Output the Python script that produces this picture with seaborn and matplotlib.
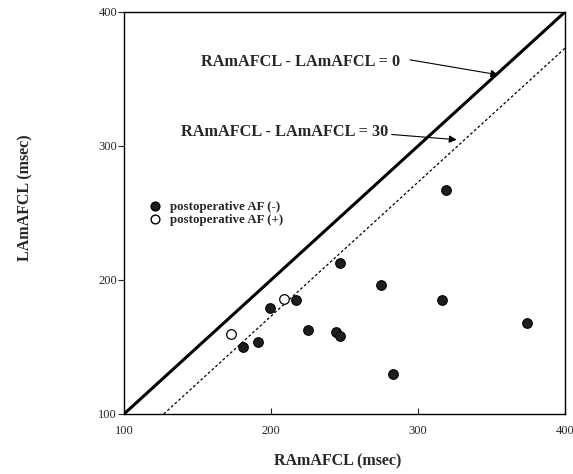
import matplotlib
matplotlib.use("Agg")
import matplotlib.pyplot as plt
import seaborn as sns
import pandas as pd
from matplotlib.ticker import MultipleLocator, AutoMinorLocator
from matplotlib.lines import Line2D

# ---- data ----
neg_x = [319, 247, 275, 316, 374, 225, 244, 247, 283, 217, 199, 191, 181]
neg_y = [267, 213, 196, 185, 168, 163, 161, 158, 130, 185, 179, 154, 150]
pos_x = [173, 209]
pos_y = [160, 186]
group_labels = ["postoperative AF (-)", "postoperative AF (+)"]
line_x = [100, 400]
diff_drawn = 27  # offset of the dashed reference line as drawn

df = pd.DataFrame({
    "RAmAFCL": neg_x + pos_x,
    "LAmAFCL": neg_y + pos_y,
    "group": [group_labels[0]] * len(neg_x) + [group_labels[1]] * len(pos_x),
})

sns.set_style("white")
plt.rcParams["font.family"] = ["Liberation Serif", "DejaVu Serif"]

fig = plt.figure(figsize=(5.73, 4.74), dpi=100)
ax = fig.add_axes([124 / 573, 1 - 414 / 474, 441 / 573, 402 / 474])

# reference lines
sns.lineplot(x=line_x, y=line_x, ax=ax, color="black", lw=2.2)
dash_x = [100 + diff_drawn, 400]
sns.lineplot(x=dash_x, y=[v - diff_drawn for v in dash_x], ax=ax, color="black",
             lw=0.9, linestyle=(0, (2.2, 1.8)))

sns.scatterplot(data=df[df.group == group_labels[0]], x="RAmAFCL", y="LAmAFCL",
                ax=ax, color="#1e1e1e", edgecolor="black", s=48, linewidth=0.8,
                legend=False, zorder=3)
sns.scatterplot(data=df[df.group == group_labels[1]], x="RAmAFCL", y="LAmAFCL",
                ax=ax, color="white", edgecolor="black", s=48, linewidth=0.9,
                legend=False, zorder=3)

ax.set_xlim(100, 400)
ax.set_ylim(100, 400)
ax.xaxis.set_major_locator(MultipleLocator(100))
ax.yaxis.set_major_locator(MultipleLocator(100))
ax.xaxis.set_minor_locator(AutoMinorLocator(6))
ax.yaxis.set_minor_locator(AutoMinorLocator(6))
ax.tick_params(axis="x", which="major", direction="in", length=4, width=0.8,
               labelsize=9, pad=8)
ax.tick_params(axis="x", which="minor", direction="in", length=2.5, width=0.8)
ax.tick_params(axis="y", which="major", direction="out", length=4, width=0.8,
               labelsize=9, pad=1)
ax.tick_params(axis="y", which="minor", direction="out", length=2, width=0.8)
ax.tick_params(left=True, bottom=True)
for sp in ax.spines.values():
    sp.set_visible(True)
    sp.set_color("black")
    sp.set_linewidth(1.0)

ax.set_xlabel("RAmAFCL (msec)", fontsize=11.5, fontweight="bold", va="center")
ax.set_ylabel("LAmAFCL (msec)", fontsize=11.5, fontweight="bold", va="center")
ax.xaxis.set_label_coords(0.485, -0.119)
ax.yaxis.set_label_coords(-0.224, 0.537)

# annotations
ax.text(220.4, 362.5, "RAmAFCL - LAmAFCL = 0", ha="center", va="center",
        fontsize=11.7, fontweight="bold")
ax.annotate("", xy=(354.6, 353.1), xytext=(294.6, 364.3),
            arrowprops=dict(arrowstyle="-|>", lw=0.8, color="black",
                            mutation_scale=11, shrinkA=0, shrinkB=0))
ax.text(209.5, 310.4, "RAmAFCL - LAmAFCL = 30", ha="center", va="center",
        fontsize=11.7, fontweight="bold")
ax.annotate("", xy=(326.3, 304.7), xytext=(282.1, 308.6),
            arrowprops=dict(arrowstyle="-|>", lw=0.8, color="black",
                            mutation_scale=11, shrinkA=0, shrinkB=0))

handles = [
    Line2D([], [], marker="o", linestyle="", markersize=6.3,
           markerfacecolor="#1e1e1e", markeredgecolor="black"),
    Line2D([], [], marker="o", linestyle="", markersize=6.3,
           markerfacecolor="white", markeredgecolor="black"),
]
leg = ax.legend(handles, group_labels, loc="upper left",
                bbox_to_anchor=(0.038, 0.545), frameon=False, borderpad=0,
                handletextpad=0.6, labelspacing=0.05, handlelength=1.2,
                prop={"family": "Liberation Serif", "weight": "bold", "size": 9.3})

fig.savefig("out.png", dpi=100)
